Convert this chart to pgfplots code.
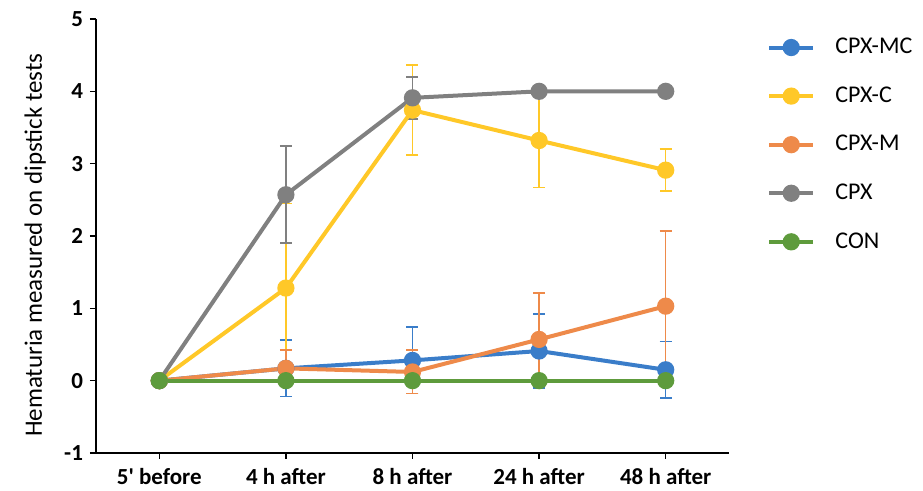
\documentclass[border=0pt]{standalone}
\usepackage{pgfplots}
\pgfplotsset{compat=1.18}
\usepackage{fontspec}
\setmainfont{Carlito}
\definecolor{colMC}{HTML}{3A7DC9}
\definecolor{colC}{HTML}{FFC828}
\definecolor{colM}{HTML}{EE8A4A}
\definecolor{colX}{HTML}{808080}
\definecolor{colCON}{HTML}{5E9B3C}
\begin{document}
\begin{tikzpicture}
\begin{axis}[
  at={(0,0)}, anchor=south west,
  scale only axis, width=316.5pt, height=217pt,
  xmin=-0.5, xmax=4.5, ymin=-1, ymax=5,
  axis x line=bottom, axis y line=left,
  axis line style={-, line width=0.75pt, black},
  xtick={0,1,2,3,4},
  xticklabels={5\textquotesingle{} before,4 h after,8 h after,24 h after,48 h after},
  ytick={-1,0,1,2,3,4,5},
  tick align=outside, major tick length=3pt,
  tick style={line width=0.75pt, black},
  /pgf/number format/assume math mode=true,
  tick label style={font=\fontsize{11.5}{13}\selectfont\bfseries},
  xticklabel style={yshift=-1pt},
  ylabel={Hematuria measured on dipstick tests},
  ylabel style={at={(axis description cs:-0.096,0.479)}, anchor=center, font=\fontsize{12.5}{14}\selectfont},
  legend style={at={(axis description cs:1.05,0.975)}, anchor=north west, draw=none, fill=none,
    font=\fontsize{12}{14}\selectfont, row sep=11pt, legend cell align=left},
  legend image code/.code={\draw[#1, mark repeat=2, mark phase=2] plot coordinates {(0cm,0cm) (0.39cm,0cm) (0.78cm,0cm)};
    \path (0.78cm+8pt,0pt);},
  clip=false,
  every axis plot/.append style={line width=2pt, mark=*, mark size=3.3pt},
]
% error bars
\addplot[forget plot, draw=none, mark=none, error bars/.cd, y dir=both, y explicit,
  error bar style={line width=0.8pt, colMC}, error mark options={rotate=90, mark size=3pt, line width=0.8pt, colMC}]
  coordinates {(1,0.17) +- (0,0.39) (2,0.28) +- (0,0.46) (3,0.41) +- (0,0.51) (4,0.15) +- (0,0.39)};
\addplot[forget plot, draw=none, mark=none, error bars/.cd, y dir=both, y explicit,
  error bar style={line width=0.8pt, colC}, error mark options={rotate=90, mark size=3pt, line width=0.8pt, colC}]
  coordinates {(1,1.28) +- (0,1.17) (2,3.74) +- (0,0.62) (3,3.32) +- (0,0.65) (4,2.91) +- (0,0.29)};
\addplot[forget plot, draw=none, mark=none, error bars/.cd, y dir=both, y explicit,
  error bar style={line width=0.8pt, colM}, error mark options={rotate=90, mark size=3pt, line width=0.8pt, colM}]
  coordinates {(1,0.17) +- (0,0.25) (2,0.12) +- (0,0.30) (3,0.57) +- (0,0.64) (4,1.03) += (0,1.04) -= (0,1.03)};
\addplot[forget plot, draw=none, mark=none, error bars/.cd, y dir=both, y explicit,
  error bar style={line width=0.8pt, colX}, error mark options={rotate=90, mark size=3pt, line width=0.8pt, colX}]
  coordinates {(1,2.57) +- (0,0.67) (2,3.91) +- (0,0.29)};
% lines
\addplot[color=colMC, mark options={fill=colMC, draw=colMC}] coordinates {(0,0) (1,0.17) (2,0.28) (3,0.41) (4,0.15)};
\addlegendentry{CPX-MC}
\addplot[color=colC, mark options={fill=colC, draw=colC}] coordinates {(0,0) (1,1.28) (2,3.74) (3,3.32) (4,2.91)};
\addlegendentry{CPX-C}
\addplot[color=colM, mark options={fill=colM, draw=colM}] coordinates {(0,0) (1,0.17) (2,0.12) (3,0.57) (4,1.03)};
\addlegendentry{CPX-M}
\addplot[color=colX, mark options={fill=colX, draw=colX}] coordinates {(0,0) (1,2.57) (2,3.91) (3,4.0) (4,4.0)};
\addlegendentry{CPX}
\addplot[color=colCON, mark options={fill=colCON, draw=colCON}] coordinates {(0,0) (1,0) (2,0) (3,0) (4,0)};
\addlegendentry{CON}
\end{axis}
\pgfresetboundingbox
\useasboundingbox (-48pt,-19pt) rectangle (413.5pt,226.5pt);
\end{tikzpicture}
\end{document}
